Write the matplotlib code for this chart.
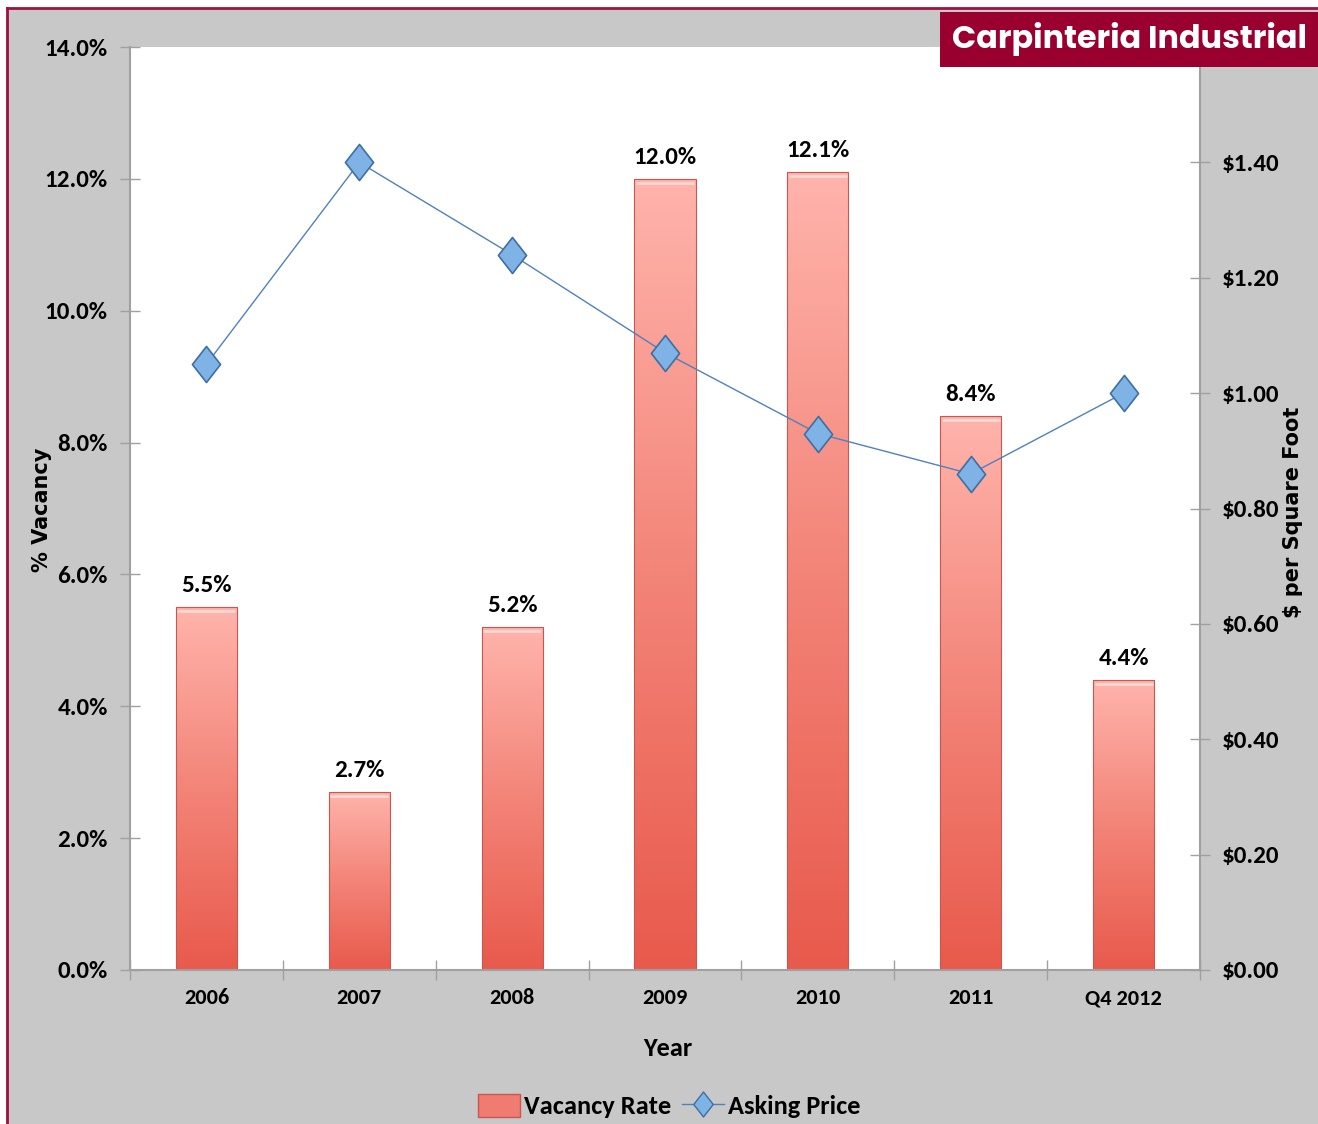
import numpy as np
import matplotlib
matplotlib.use("Agg")
import matplotlib.pyplot as plt
from matplotlib import font_manager as fm
from matplotlib.patches import Rectangle
from matplotlib.colors import LinearSegmentedColormap
from matplotlib.lines import Line2D
from matplotlib.path import Path

# ---------------- data ----------------
categories = ["2006", "2007", "2008", "2009", "2010", "2011", "Q4 2012"]
vacancy_rate = [5.5, 2.7, 5.2, 12.0, 12.1, 8.4, 4.4]           # %
asking_price = [1.05, 1.40, 1.24, 1.07, 0.93, 0.86, 1.00]        # $ / sq ft
left_ticks = [0, 2, 4, 6, 8, 10, 12, 14]
right_ticks = [0.0, 0.2, 0.4, 0.6, 0.8, 1.0, 1.2, 1.4]

title = "Carpinteria Industrial"

fonts = {}
for f in fm.fontManager.ttflist:
    try:
        wt = int(f.weight)
    except (TypeError, ValueError):
        wt = 700 if "bold" in str(f.weight).lower() else 400
    fonts.setdefault(f.name, set()).add(wt)


def pick(cands, need_bold=False):
    for c in cands:
        if c in fonts and (not need_bold or max(fonts[c]) >= 700):
            return c
    return "DejaVu Sans"


NARROW_NAME = pick(["Carlito", "PT Sans Narrow", "Roboto Condensed", "Archivo Narrow",
                    "Open Sans Condensed", "Liberation Sans Narrow"])
FUTURA_NAME = pick(["League Spartan", "Jost", "Kumbh Sans", "Poppins", "Outfit", "Urbanist",
                    "Montserrat"], need_bold=True)
NARROW = [NARROW_NAME, "DejaVu Sans"]
WIDE = ["DejaVu Sans"]
FUT = [FUTURA_NAME, "DejaVu Sans"]

W, H = 1318, 1124
fig = plt.figure(figsize=(W / 100, H / 100), dpi=100)
fig.patch.set_facecolor("white")

# grey panel with maroon border (top & left)
fig.patches.append(Rectangle((7 / W, 0), 1 - 7 / W, 1 - 8 / H, transform=fig.transFigure,
                             facecolor="#C8C8C8", edgecolor="none", zorder=-10))
fig.lines.append(Line2D([7 / W, 7 / W], [0, 1 - 8 / H], transform=fig.transFigure,
                        color="#A01040", lw=2, zorder=-5))
fig.lines.append(Line2D([7 / W, 1], [1 - 8 / H, 1 - 8 / H], transform=fig.transFigure,
                        color="#A01040", lw=2, zorder=-5))

ax = fig.add_axes([130 / W, 1 - 970 / H, (1200 - 130) / W, (970 - 47) / H])
ax.set_facecolor("white")
ax2 = ax.twinx()

x = np.arange(len(categories))

# bars with vertical gradient
cmap = LinearSegmentedColormap.from_list("bar", ["#E85A4C", "#F38478", "#FFB4AC"])
bars = ax.bar(x, vacancy_rate, width=0.4, color="none", edgecolor="#C9574F", linewidth=0.8, zorder=2)
grad = np.linspace(0, 1, 256).reshape(-1, 1)
for b in bars:
    x0, y0 = b.get_x(), b.get_y()
    w, h = b.get_width(), b.get_height()
    im = ax.imshow(grad, cmap=cmap, origin="lower", aspect="auto",
                   extent=[x0, x0 + w, y0, y0 + h], zorder=1.5)
    im.set_clip_path(b)
    ax.plot([x0 + 0.01, x0 + w - 0.01], [y0 + h - 0.06, y0 + h - 0.06],
            color="#FFD8D3", lw=2, zorder=2.1, solid_capstyle="butt")

for xi, v in zip(x, vacancy_rate):
    ax.annotate(f"{v:.1f}%", (xi, v), xytext=(0, 8), textcoords="offset points",
                ha="center", va="bottom", fontsize=18, fontweight="bold", family=NARROW)

ax.set_xlim(-0.5, len(categories) - 0.5)
ax.set_ylim(0, 14)
ax.set_yticks(left_ticks)
ax.set_yticklabels([f"{t:.1f}%" for t in left_ticks], fontsize=18, fontweight="bold", family=NARROW)
ax.set_xticks(np.arange(-0.5, len(categories), 1.0))
ax.set_xticklabels([])
ax.set_xticks(x, minor=True)
ax.set_xticklabels(categories, minor=True, fontsize=16, fontweight="bold", family=NARROW)
ax.tick_params(axis="x", which="major", direction="inout", length=14, color="#A0A0A0", width=1)
ax.tick_params(axis="x", which="minor", length=0, pad=13)
ax.tick_params(axis="y", direction="inout", length=14, color="#A0A0A0", width=1, pad=9)

diamond = Path([(0, 1), (0.78, 0), (0, -1), (-0.78, 0), (0, 1)],
               [Path.MOVETO, Path.LINETO, Path.LINETO, Path.LINETO, Path.CLOSEPOLY])
ax2.plot(x, asking_price, color="#4F81BD", lw=1, marker=diamond, markersize=26,
         markerfacecolor="#7FB2E5", markeredgecolor="#3E6FA3", markeredgewidth=1.2, zorder=5)
ax2.set_ylim(0, 1.6)
ax2.set_yticks(right_ticks)
ax2.set_yticklabels([f"${t:.2f}" for t in right_ticks], fontsize=18, fontweight="bold", family=NARROW)
ax2.tick_params(axis="y", direction="inout", length=14, color="#A0A0A0", width=1, pad=9)

for a in (ax, ax2):
    for s in a.spines.values():
        s.set_visible(False)
ax.spines["left"].set_visible(True)
ax.spines["bottom"].set_visible(True)
ax2.spines["right"].set_visible(True)
for s in (ax.spines["left"], ax.spines["bottom"], ax2.spines["right"]):
    s.set_color("#A0A0A0")
    s.set_linewidth(1.5)

ax.set_zorder(ax2.get_zorder() - 1)
ax2.patch.set_visible(False)

fig.text(42 / W, 1 - 510 / H, "% Vacancy", rotation=90, ha="center", va="center",
         fontsize=15, fontweight="bold", family=WIDE)
fig.text(1293 / W, 1 - 512 / H, "$ per Square Foot", rotation=90, ha="center", va="center",
         fontsize=15, fontweight="bold", family=WIDE)
fig.text(668 / W, 1 - 1048 / H, "Year", ha="center", va="center",
         fontsize=19, fontweight="bold", family=NARROW)

# title box
fig.patches.append(Rectangle((940 / W, 1 - 67 / H), (W - 940) / W, 55 / H, transform=fig.transFigure,
                             facecolor="#990030", edgecolor="none", zorder=10))
ttl = fig.text(1130 / W, 1 - 39 / H, title, ha="center", va="center", color="white",
               fontsize=22, fontweight="bold", family=FUT, zorder=11)
# fit title width to the reference (~354 px)
fig.canvas.draw()
bb = ttl.get_window_extent()
ttl.set_fontsize(22 * 354 / bb.width)

# legend
bar_handle = Rectangle((0, 0), 1, 1, facecolor="#F07B70", edgecolor="#C9574F")
line_handle = Line2D([], [], color="#4F81BD", lw=1, marker=diamond, markersize=18,
                     markerfacecolor="#7FB2E5", markeredgecolor="#3E6FA3")
leg = fig.legend([bar_handle, line_handle], ["Vacancy Rate", "Asking Price"],
                 loc="center", bbox_to_anchor=(669 / W, 1 - 1106 / H), ncol=2, frameon=False,
                 prop={"family": NARROW, "weight": "bold", "size": 19},
                 handlelength=1.6, handleheight=1.0, handletextpad=0.15, columnspacing=0.4)

fig.savefig("out.png", dpi=100, facecolor=fig.get_facecolor())
